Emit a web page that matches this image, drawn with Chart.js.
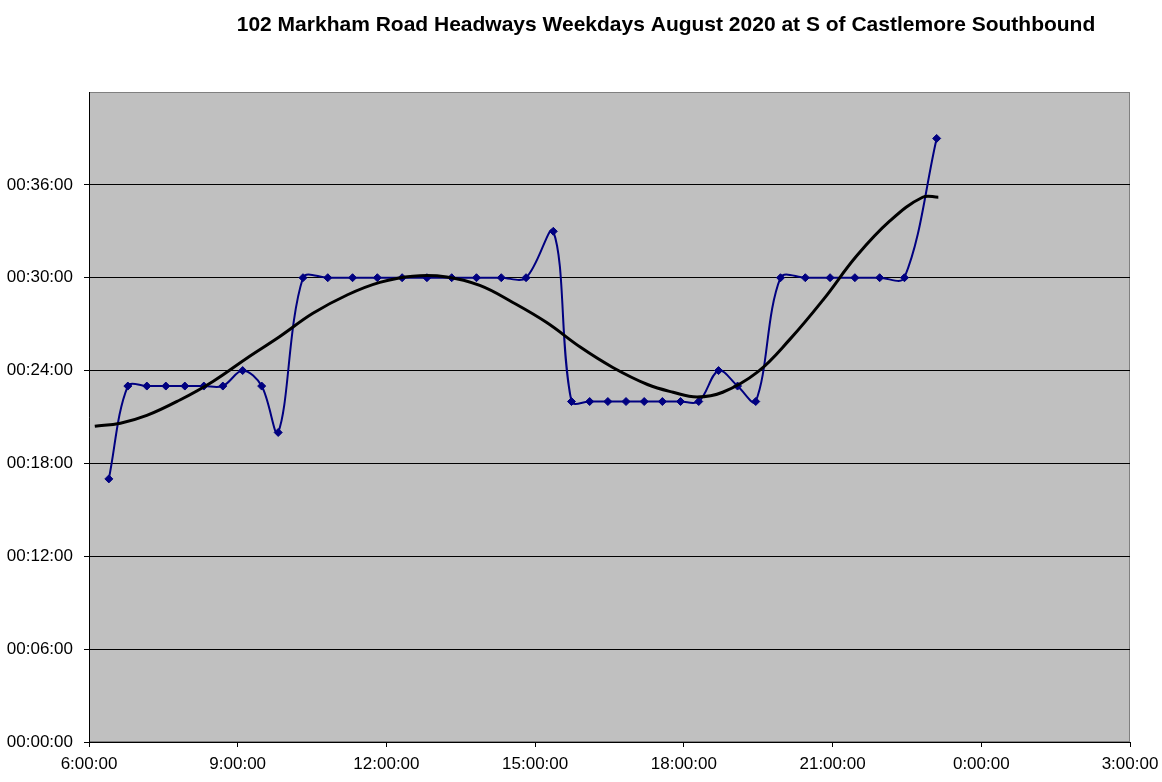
<!DOCTYPE html>
<html><head><meta charset="utf-8">
<script src="https://cdn.jsdelivr.net/npm/chart.js@4.4.1/dist/chart.umd.min.js"></script>
<style>html,body{margin:0;padding:0;background:#fff;}#wrap{width:1162px;height:782px;}</style>
</head><body><div id="wrap"><canvas id="c" width="1162" height="782"></canvas></div>
<script>
const chartTitle = "102 Markham Road Headways Weekdays August 2020 at S of Castlemore Southbound";
// trip times (time of day) and headways in minutes
const tripTimes = ["6:24","6:47","7:10","7:33","7:56","8:19","8:42","9:06","9:29","9:49","10:19","10:49","11:19","11:49","12:19","12:49","13:19","13:49","14:19","14:49","15:22","15:44","16:06","16:28","16:50","17:12","17:34","17:56","18:18","18:42","19:05","19:27","19:57","20:27","20:57","21:27","21:57","22:27","23:06"];
const headways = [17,23,23,23,23,23,23,24,23,20,30,30,30,30,30,30,30,30,30,30,33,22,22,22,22,22,22,22,22,24,23,22,30,30,30,30,30,30,39];
// trend curve
const trendTimes = ["6:07","6:38","7:10","7:50","8:30","9:11","9:51","10:31","11:13","11:52","12:32","13:13","13:53","14:33","15:14","15:55","16:34","17:16","17:47","18:16","18:47","19:29","20:08","20:49","21:29","22:10","22:49","23:08"];
const trendValues = [20.4,20.6,21.1,22.1,23.3,24.8,26.2,27.7,28.9,29.7,30.1,30.05,29.5,28.4,27.1,25.5,24.2,23.1,22.6,22.3,22.6,23.9,26.0,28.6,31.4,33.7,35.2,35.2];
const xTicks = ["6:00:00","9:00:00","12:00:00","15:00:00","18:00:00","21:00:00","0:00:00","3:00:00"];
const yTicks = ["00:00:00","00:06:00","00:12:00","00:18:00","00:24:00","00:30:00","00:36:00"];

function toMin(s){const p=s.split(":");return (+p[0])*60+(+p[1]);}
const lineData = tripTimes.map((t,i)=>({x:toMin(t),y:headways[i]}));
const trendData = trendTimes.map((t,i)=>({x:toMin(t),y:trendValues[i]}));

const bgPlugin = {
  id:'bg',
  beforeDraw(chart){
    const {ctx,chartArea:a}=chart;
    ctx.save();
    ctx.fillStyle='#C0C0C0';
    ctx.fillRect(a.left,a.top,a.right-a.left,a.bottom-a.top);
    ctx.strokeStyle='#808080';ctx.lineWidth=1;
    ctx.strokeRect(a.left+0.5,a.top+0.5,a.right-a.left-1,a.bottom-a.top-1);
    ctx.restore();
  },
  afterDraw(chart){
    const {ctx}=chart;
    ctx.save();
    ctx.font='bold 21px "Liberation Sans", Arial, sans-serif';
    ctx.fillStyle='#000';ctx.textAlign='center';ctx.textBaseline='middle';
    ctx.fillText(chartTitle,666,25);
    ctx.restore();
  }
};

new Chart(document.getElementById('c'),{
  type:'line',
  data:{datasets:[
    {data:lineData,borderColor:'#000080',backgroundColor:'#000080',borderWidth:2,tension:0.35,
     pointStyle:'rectRot',pointRadius:4,pointHoverRadius:4,pointBorderWidth:1,order:2},
    {data:trendData,borderColor:'#000000',borderWidth:3,tension:0.4,pointRadius:0,order:1}
  ]},
  options:{
    responsive:false,animation:false,
    plugins:{legend:{display:false},tooltip:{enabled:false}},
    layout:{padding:{top:92,right:32,left:0,bottom:0}},
    scales:{
      x:{type:'linear',min:360,max:1620,
        afterBuildTicks(s){s.ticks=xTicks.map((_,i)=>({value:360+i*180}));},
        afterFit(s){s.height=40;s.paddingLeft=0;s.paddingRight=0;},
        ticks:{color:'#000',font:{family:'"Liberation Sans", Arial, sans-serif',size:17},padding:7,maxRotation:0,autoSkip:false,
          callback:(v,i)=>xTicks[i]},
        grid:{drawOnChartArea:false,drawTicks:true,tickLength:5,color:'#000'},
        border:{color:'#000',width:1}
      },
      y:{type:'linear',min:0,max:42,
        afterBuildTicks(s){s.ticks=yTicks.map((_,i)=>({value:i*6}));},
        afterFit(s){s.width=89;s.paddingTop=0;s.paddingBottom=0;},
        ticks:{color:'#000',font:{family:'"Liberation Sans", Arial, sans-serif',size:17},padding:11,
          callback:(v,i)=>yTicks[i]},
        grid:{color:'#000',lineWidth:1,tickLength:5},
        border:{color:'#000',width:1}
      }
    }
  },
  plugins:[bgPlugin]
});
</script></body></html>
